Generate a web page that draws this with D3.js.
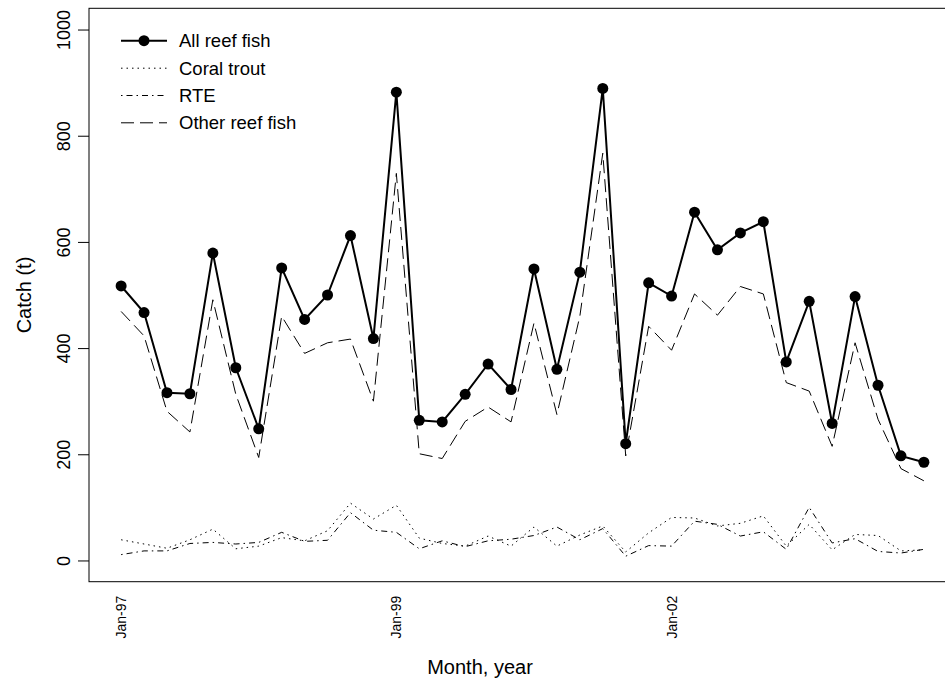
<!DOCTYPE html>
<html>
<head>
<meta charset="utf-8">
<script src="https://cdn.jsdelivr.net/npm/d3@7"></script>
<style>
  body { margin: 0; background: #fff; }
  text { font-family: "Liberation Sans", Arial, sans-serif; fill: #000; }
</style>
</head>
<body>
<div id="chart"></div>
<script>
// month index 0..35, labels only at a few positions
var tickIndex = [0, 12, 24];
var tickLabels = ['Jan-97', 'Jan-99', 'Jan-02'];
var yTicks = [0, 200, 400, 600, 800, 1000];

var allReef = [517, 467, 316, 314, 579, 363, 248, 551, 454, 500, 612, 418,
               882, 264, 261, 313, 370, 322, 549, 360, 543, 889, 220, 523,
               498, 656, 585, 617, 638, 374, 488, 258, 497, 330, 197, 185];
var coralTrout = [39, 31, 23, 39, 59, 22, 27, 43, 37, 56, 108, 78,
                  104, 42, 32, 27, 46, 27, 63, 27, 48, 65, 16, 52,
                  81, 80, 65, 70, 84, 27, 68, 20, 49, 47, 18, 20];
var rte = [11, 18, 18, 32, 34, 31, 34, 53, 36, 38, 90, 57,
           53, 22, 37, 26, 37, 40, 47, 63, 39, 60, 8, 28,
           27, 74, 68, 46, 54, 21, 100, 33, 41, 17, 14, 21];
var otherReef = [469, 423, 281, 242, 491, 313, 194, 460, 390, 410, 417, 300,
                 729, 201, 192, 262, 289, 261, 447, 275, 460, 767, 197, 441,
                 396, 502, 462, 516, 502, 335, 319, 215, 410, 266, 173, 150];

var seriesNames = ['All reef fish', 'Coral trout', 'RTE', 'Other reef fish'];

var svgWidth = 945;
var svgHeight = 681;

var margin = { top: 8.3, left: 89 };
var width = 867;
var height = 573.4;

var svg = d3.select('#chart')
  .append('svg')
  .attr('width', svgWidth)
  .attr('height', svgHeight);

var chartGroup = svg.append('g')
  .attr('transform', `translate(${margin.left}, ${margin.top})`);

// R-style 4% padding on both axes
var xScale = d3.scaleLinear()
  .domain([-1.4, allReef.length - 1 + 1.4])
  .range([0, width]);

var yScale = d3.scaleLinear()
  .domain([-40, 1040])
  .range([height, 0]);

// line styles per series
var styles = [
  { data: allReef, width: 2, dash: null },
  { data: coralTrout, width: 1, dash: '1.5,4' },
  { data: rte, width: 1, dash: '1.5,4,6,4' },
  { data: otherReef, width: 1, dash: '13,6' }
];

var line = d3.line()
  .x((d, i) => xScale(i))
  .y(d => yScale(d));

styles.forEach(function(s) {
  chartGroup.append('path')
    .datum(s.data)
    .attr('d', line)
    .attr('fill', 'none')
    .attr('stroke', '#000')
    .attr('stroke-width', s.width)
    .attr('stroke-dasharray', s.dash);
});

chartGroup.selectAll('.pt')
  .data(allReef)
  .enter()
  .append('circle')
  .classed('pt', true)
  .attr('cx', (d, i) => xScale(i))
  .attr('cy', d => yScale(d))
  .attr('r', 5.5)
  .attr('fill', '#000');

// plot box
chartGroup.append('rect')
  .attr('x', 0).attr('y', 0)
  .attr('width', width).attr('height', height)
  .attr('fill', 'none')
  .attr('stroke', '#000')
  .attr('stroke-width', 1);

// y axis
var leftAxis = d3.axisLeft(yScale)
  .tickValues(yTicks)
  .tickSize(11)
  .tickFormat(d3.format('d'));

var yAxis = chartGroup.append('g').call(leftAxis);
yAxis.select('.domain').remove();
yAxis.selectAll('line').attr('stroke', '#000');
// tick groups are already translated, so only shift and rotate the text
yAxis.selectAll('text')
  .attr('x', null).attr('dy', null).attr('y', null)
  .attr('text-anchor', 'middle')
  .attr('font-size', 18)
  .attr('transform', 'translate(-19, 0) rotate(-90)');

// x labels, rotated, no ticks
chartGroup.selectAll('.xlab')
  .data(tickIndex)
  .enter()
  .append('text')
  .classed('xlab', true)
  .attr('transform', d => `translate(${xScale(d) + 5}, ${height + 14}) rotate(-90)`)
  .attr('text-anchor', 'end')
  .attr('font-size', 14)
  .text((d, i) => tickLabels[i]);

// axis titles
svg.append('text')
  .attr('transform', `translate(31, ${margin.top + height / 2}) rotate(-90)`)
  .attr('text-anchor', 'middle')
  .attr('font-size', 20)
  .text('Catch (t)');

svg.append('text')
  .attr('x', 480)
  .attr('y', 674)
  .attr('text-anchor', 'middle')
  .attr('font-size', 20)
  .text('Month, year');

// legend
var legend = svg.append('g');
var legendY = [40.7, 68.2, 95.5, 122.8];

styles.forEach(function(s, i) {
  legend.append('line')
    .attr('x1', 121).attr('x2', 167)
    .attr('y1', legendY[i]).attr('y2', legendY[i])
    .attr('stroke', '#000')
    .attr('stroke-width', s.width)
    .attr('stroke-dasharray', s.dash);
  legend.append('text')
    .attr('x', 179)
    .attr('y', legendY[i] + 6.6)
    .attr('font-size', 18.5)
    .text(seriesNames[i]);
});

legend.append('circle')
  .attr('cx', 144).attr('cy', legendY[0])
  .attr('r', 5.5)
  .attr('fill', '#000');
</script>
</body>
</html>
